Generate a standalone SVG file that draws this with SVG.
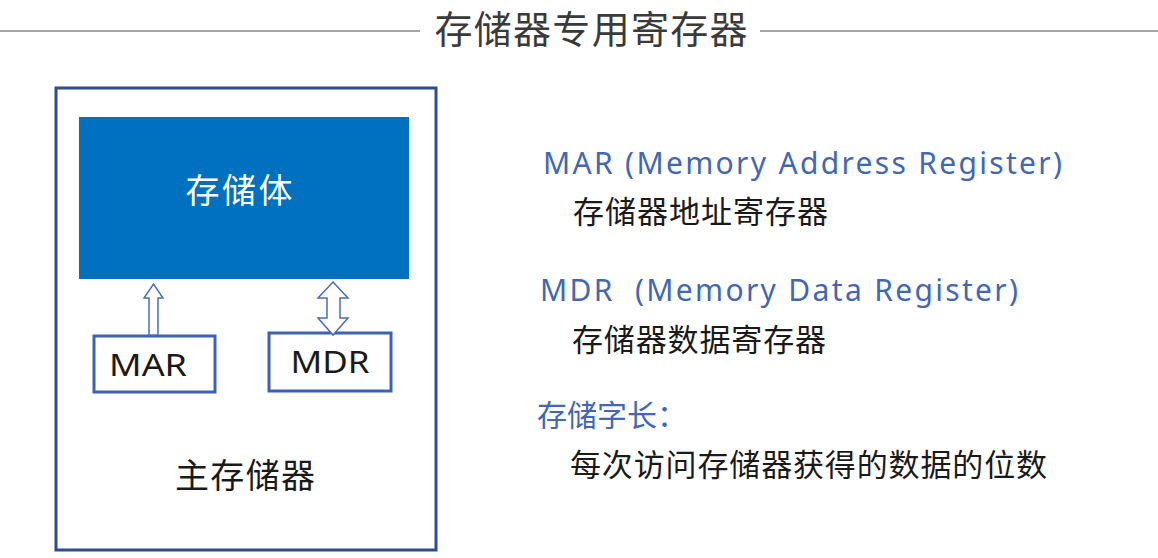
<svg xmlns="http://www.w3.org/2000/svg" width="1158" height="558" viewBox="0 0 1158 558">
<style>
.cjk{font-family:"Noto Sans CJK SC","Noto Sans",sans-serif}
.lat{font-family:"Noto Sans","Noto Sans CJK SC",sans-serif}
.blue{fill:#4267B5}
.blk{fill:#1a1a1a}
.reg{fill:#ffffff;stroke:#3D62B5;stroke-width:3}
.arr{fill:#ffffff;stroke:#4A6CBA;stroke-width:1.5}
</style>
<rect width="1158" height="558" fill="#ffffff"/>
<g id="title">
<line x1="0" y1="31" x2="420" y2="31" stroke="#8a8a8a" stroke-width="1.5"/>
<line x1="760" y1="31" x2="1158" y2="31" stroke="#8a8a8a" stroke-width="1.5"/>
<text x="591" y="43" text-anchor="middle" class="cjk" font-size="38" fill="#3a3a3a" textLength="313" lengthAdjust="spacing">存储器专用寄存器</text>
</g>
<g id="main-memory">
<rect x="56" y="88" width="380" height="462" fill="#ffffff" stroke="#2F4D8E" stroke-width="3"/>
<text x="245" y="488" text-anchor="middle" class="cjk blk" font-size="34" textLength="140" lengthAdjust="spacing">主存储器</text>
</g>
<g id="storage">
<rect x="79" y="117" width="330" height="162" fill="#0070C0"/>
<text x="239" y="203" text-anchor="middle" class="cjk" font-size="34" fill="#ffffff" textLength="107" lengthAdjust="spacing">存储体</text>
</g>
<g id="mar">
<rect x="94" y="336" width="121" height="56" class="reg"/>
<text x="148" y="376" text-anchor="middle" class="lat blk" font-size="31" textLength="78" lengthAdjust="spacingAndGlyphs">MAR</text>
</g>
<g id="mdr">
<rect x="269" y="333" width="122" height="58" class="reg"/>
<text x="330" y="373" text-anchor="middle" class="lat blk" font-size="31" textLength="79" lengthAdjust="spacingAndGlyphs">MDR</text>
</g>
<g id="connectors">
<path class="arr" d="M149,335 L149,298 L144,298 L153.5,284 L163,298 L158,298 L158,335 Z"/>
<path class="arr" d="M333,282 L348,298 L340,298 L340,318 L348,318 L333,335 L318,318 L327,318 L327,298 L318,298 Z"/>
</g>
<g id="notes">
<text x="543" y="174" class="lat blue" font-size="30" textLength="519" lengthAdjust="spacing">MAR (Memory Address Register)</text>
<text x="573" y="223" class="cjk blk" font-size="31" textLength="255" lengthAdjust="spacing">存储器地址寄存器</text>
<text x="540" y="301" class="lat blue" font-size="30" textLength="478" lengthAdjust="spacing" xml:space="preserve">MDR  (Memory Data Register)</text>
<text x="572" y="351" class="cjk blk" font-size="31" textLength="254" lengthAdjust="spacing">存储器数据寄存器</text>
<text x="537" y="426" class="cjk blue" font-size="30" textLength="150" lengthAdjust="spacing">存储字长：</text>
<text x="570" y="476" class="cjk blk" font-size="31" textLength="477" lengthAdjust="spacing">每次访问存储器获得的数据的位数</text>
</g>
</svg>
